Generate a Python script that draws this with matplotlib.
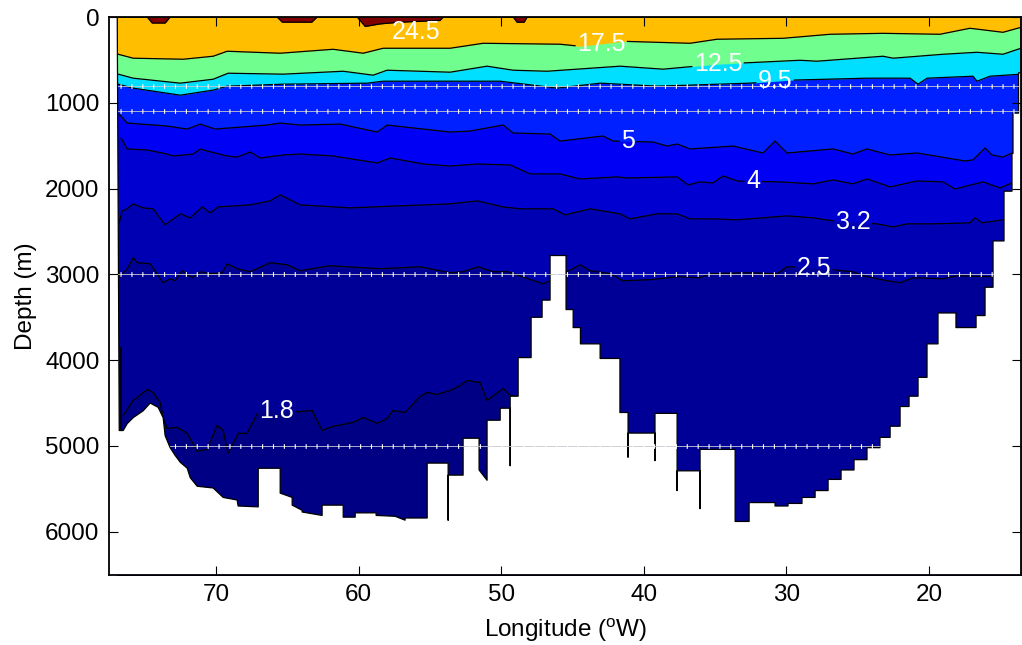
import numpy as np
import matplotlib
matplotlib.use('Agg')
import matplotlib.pyplot as plt

plt.rcParams['font.family'] = ['Liberation Sans', 'DejaVu Sans']
plt.rcParams['mathtext.fontset'] = 'custom'
plt.rcParams['mathtext.rm'] = 'Liberation Sans'
plt.rcParams['lines.scale_dashes'] = False

# ---- isotherm depths (m) along the section, longitude in deg W ----
levels = [1.8, 2.5, 3.2, 4, 5, 9.5, 12.5, 17.5, 24.5]

lon_18 = [76.52, 75.82, 75.54, 74.84, 74.42, 73.93, 73.72, 73.44, 72.73, 72.03,
          71.33, 70.63, 69.93, 69.51, 69.16, 68.46, 67.83, 67.12, 66.91, 64.81,
          63.27, 62.57, 61.80, 60.39, 59.69, 58.71, 58.01, 57.59, 56.75, 55.70,
          55.20, 54.50, 53.59, 52.89, 52.40, 51.49, 51.00, 49.87, 49.38, 48.82]
dep_18 = [4644, 4469, 4434, 4342, 4376, 4493, 4667, 4795, 4783, 4853,
          5062, 5039, 4760, 4818, 5086, 4853, 4853, 4621, 4586, 4609,
          4586, 4818, 4772, 4725, 4667, 4737, 4679, 4586, 4609, 4423,
          4376, 4400, 4353, 4295, 4237, 4260, 4469, 4330, 4411, 4423]

lon_25 = [76.73, 76.24, 75.82, 75.54, 74.63, 73.72, 73.23, 72.88, 72.38, 71.68,
          71.12, 70.42, 69.58, 69.23, 68.53, 67.61, 66.21, 65.02, 64.11, 62.01,
          58.50, 55.70, 53.59, 52.68, 51.63, 50.58, 49.52, 48.54, 47.07, 46.58,
          45.39, 44.47, 43.77, 42.37, 41.46, 39.57, 37.67, 36.06, 35.36, 32.76,
          30.66, 29.96, 28.13, 25.33, 24.63, 22.95, 22.03, 21.12, 19.02, 18.04,
          15.58]
dep_25 = [3016, 2934, 2806, 2864, 2876, 3097, 3051, 3074, 2957, 3039,
          2969, 2992, 2981, 2876, 2934, 2969, 2864, 2888, 2957, 2899,
          2934, 2911, 2981, 2969, 2911, 2969, 2969, 3027, 3109, 3074,
          2969, 2888, 2957, 2992, 3074, 3062, 3027, 3039, 2992, 2981,
          2992, 2911, 2923, 2969, 3016, 3074, 3097, 3039, 3051, 3016,
          3027]

lon_32 = [76.80, 76.59, 76.24, 75.82, 75.12, 74.42, 73.58, 72.52, 71.82, 70.98,
          70.42, 69.86, 67.61, 66.21, 65.51, 64.11, 60.60, 57.10, 53.59, 51.70,
          49.87, 48.68, 46.37, 45.52, 43.77, 41.67, 40.97, 39.07, 37.67, 36.76,
          35.15, 33.46, 29.96, 28.13, 26.73, 23.65, 22.52, 21.54, 19.72, 17.13,
          16.78, 16.28, 14.81]
dep_32 = [2399, 2260, 2236, 2178, 2225, 2236, 2422, 2294, 2341, 2213,
          2283, 2213, 2190, 2143, 2073, 2190, 2225, 2201, 2178, 2143,
          2213, 2236, 2236, 2306, 2236, 2294, 2353, 2294, 2294, 2353,
          2353, 2364, 2318, 2341, 2376, 2411, 2446, 2411, 2411, 2399,
          2341, 2399, 2364]

lon_4 = [76.66, 76.24, 74.84, 73.44, 73.02, 71.61, 71.12, 70.63, 69.23, 68.53,
         67.61, 66.91, 65.30, 64.11, 61.80, 58.71, 57.80, 55.48, 53.59, 51.70,
         49.38, 47.98, 45.88, 44.47, 41.88, 41.18, 37.67, 36.90, 36.06, 35.15,
         34.45, 33.46, 30.45, 28.13, 26.73, 25.33, 24.35, 22.73, 20.84, 19.02,
         18.18, 16.21, 15.02, 14.18]
dep_4 = [1411, 1538, 1550, 1597, 1620, 1597, 1538, 1562, 1620, 1632,
         1573, 1643, 1608, 1597, 1620, 1701, 1643, 1713, 1737, 1713,
         1725, 1829, 1829, 1887, 1864, 1876, 1864, 1957, 1922, 1934,
         1852, 1911, 1922, 1945, 1899, 1945, 1887, 1980, 1911, 1922,
         2004, 1922, 1992, 1934]

lon_5 = [76.80, 76.24, 73.44, 72.03, 71.12, 70.07, 66.42, 65.51, 64.11, 61.30,
         58.71, 58.01, 53.59, 52.19, 49.87, 49.17, 46.58, 45.88, 42.86, 42.16,
         39.36, 38.37, 37.67, 36.76, 33.74, 31.64, 30.80, 29.96, 26.73, 25.33,
         24.35, 22.73, 20.84, 17.48, 16.92, 16.07, 15.58, 14.81, 14.18]
dep_5 = [1132, 1236, 1271, 1306, 1248, 1306, 1259, 1236, 1259, 1248,
         1341, 1259, 1341, 1329, 1259, 1352, 1364, 1446, 1387, 1446,
         1457, 1504, 1480, 1538, 1504, 1585, 1446, 1585, 1538, 1597,
         1538, 1608, 1585, 1678, 1666, 1527, 1608, 1632, 1585]

lon_95 = [76.87, 75.82, 72.52, 70.21, 69.23, 65.30, 59.41, 58.29, 53.59, 50.08,
          46.09, 43.07, 39.07, 32.55, 29.75, 24.35, 21.33, 20.77, 20.14, 16.92,
          16.63, 15.72, 13.55]
dep_95 = [783, 829, 911, 852, 806, 783, 771, 748, 748, 748,
          829, 771, 806, 771, 736, 713, 713, 783, 713, 690,
          748, 690, 666]

lon_125 = [76.87, 75.82, 72.52, 70.21, 69.16, 65.30, 61.09, 58.99, 58.01, 53.59,
           51.00, 49.17, 46.79, 41.67, 38.65, 34.87, 29.05, 27.85, 23.23, 22.52,
           19.02, 16.63, 14.81, 13.55]
dep_125 = [666, 713, 771, 725, 655, 666, 632, 678, 620, 643,
           573, 620, 632, 573, 608, 550, 504, 515, 457, 480,
           434, 411, 434, 364]

lon_175 = [76.87, 75.82, 72.31, 70.21, 69.23, 65.51, 61.80, 59.69, 58.29, 53.59,
           51.28, 45.88, 44.47, 41.46, 36.76, 34.87, 30.24, 26.94, 23.23, 19.23,
           17.13, 14.81, 13.55]
dep_175 = [434, 480, 492, 457, 399, 422, 376, 422, 364, 364,
           306, 317, 341, 283, 306, 259, 248, 201, 190, 201,
           131, 178, 120]

lon_245 = [76.94, 74.84, 74.49, 73.58, 73.23, 65.72, 65.37, 63.30, 62.92, 60.11,
           59.55, 58.50, 57.10, 54.30, 54.08, 49.17, 48.90, 48.40, 48.19, 13.55]
dep_245 = [0, 0, 70, 70, 0, 0, 60, 60, 0, 0,
           110, 80, 60, 40, 0, 0, 60, 60, 0, 0]

# seafloor / section boundary
floor_lon = [76.94, 76.80, 76.66, 76.66, 76.66, 76.52, 76.24, 75.82, 75.12, 74.63,
             74.07, 73.72, 73.58, 73.23, 72.88, 72.52, 72.03, 71.82, 71.33, 70.21,
             69.51, 68.53, 68.46, 67.05, 67.05, 65.51, 65.51, 64.67, 64.67, 63.97,
             63.97, 62.57, 62.57, 61.09, 61.09, 60.25, 60.25, 58.78, 58.78, 57.45,
             56.75, 56.75, 55.20, 55.20, 53.73, 53.73, 53.73, 52.68, 52.68, 51.56,
             51.56, 51.00, 51.00, 50.08, 50.08, 49.38, 49.38, 49.38, 48.82, 48.82,
             47.91, 47.91, 47.14, 47.14, 46.58, 46.58, 45.46, 45.46, 44.96, 44.96,
             44.45, 44.45, 43.07, 43.07, 41.68, 41.68, 41.11, 41.11, 41.11, 39.22,
             39.22, 39.22, 37.67, 37.67, 37.67, 36.06, 36.06, 36.06, 33.60, 33.60,
             32.62, 32.62, 30.80, 30.80, 29.89, 29.89, 28.91, 28.91, 27.99, 27.99,
             27.08, 27.08, 26.17, 26.17, 25.26, 25.26, 24.35, 24.35, 23.44, 23.44,
             22.73, 22.73, 22.03, 22.03, 21.40, 21.40, 20.77, 20.77, 20.14, 20.14,
             19.37, 19.37, 18.11, 18.11, 16.70, 16.70, 16.07, 16.07, 15.51, 15.51,
             14.74, 14.74, 14.18, 14.18, 14.11, 14.11, 13.72, 13.72, 13.55, 13.55]
floor_dep = [0, 4820, 4820, 3850, 4820, 4820, 4740, 4670, 4590, 4500,
             4550, 4670, 4880, 5020, 5110, 5190, 5260, 5370, 5470, 5490,
             5600, 5630, 5700, 5710, 5260, 5260, 5550, 5600, 5690, 5750,
             5770, 5810, 5690, 5690, 5830, 5830, 5780, 5780, 5810, 5820,
             5865, 5840, 5840, 5200, 5200, 5865, 5340, 5340, 4910, 4910,
             5280, 5400, 4700, 4700, 4560, 4560, 5230, 4420, 4420, 3970,
             3970, 3500, 3500, 3300, 3300, 2780, 2780, 3410, 3410, 3620,
             3620, 3810, 3810, 3980, 3980, 4610, 4610, 5130, 4850, 4850,
             5170, 4620, 4620, 5520, 5290, 5290, 5730, 5040, 5040, 5880,
             5880, 5660, 5660, 5700, 5700, 5670, 5670, 5600, 5600, 5520,
             5520, 5390, 5390, 5280, 5280, 5160, 5160, 5020, 5020, 4900,
             4900, 4770, 4770, 4540, 4540, 4420, 4420, 4200, 4200, 3810,
             3810, 3450, 3450, 3620, 3620, 3480, 3480, 3150, 3150, 2610,
             2610, 2030, 2030, 1590, 1590, 1120, 1120, 650, 650, 0]

# sampling depths marked on the section
grid_depth = [800, 1100, 3000, 5000]
grid_west = [76.87, 76.87, 76.87, 73.23]
grid_east = [13.69, 13.69, 15.51, 23.44]

# where each contour label sits (deg W)
label_lon = [65.79, 28.06, 25.33, 32.34, 41.11, 30.80, 34.80, 42.99, 55.97]

iso = {1.8: (lon_18, dep_18), 2.5: (lon_25, dep_25), 3.2: (lon_32, dep_32),
       4: (lon_4, dep_4), 5: (lon_5, dep_5), 9.5: (lon_95, dep_95),
       12.5: (lon_125, dep_125), 17.5: (lon_175, dep_175), 24.5: (lon_245, dep_245)}

# fill colours, coldest water first (jet-like)
colors = ['#000085', '#000096', '#0000B3', '#0000D1', '#0000F4',
          '#0020FF', '#00DFFF', '#70FF8F', '#FFBF00', '#800000']


def cut(lon, dep, lo, hi):
    # break a line between lo and hi (deg W) to leave room for a label
    lon = np.asarray(lon, float)
    dep = np.asarray(dep, float)
    d_lo, d_hi = np.interp([lo, hi], lon[::-1], dep[::-1])
    w = lon >= hi
    e = lon <= lo
    return (np.r_[lon[w], hi, np.nan, lo, lon[e]],
            np.r_[dep[w], d_hi, np.nan, d_lo, dep[e]])


fig = plt.figure(figsize=(10.22, 6.45), dpi=100)
ax = fig.add_axes([0.1069, 0.1091, 0.8921, 0.8645])

west, east = 76.94, 13.55
ax.fill_between([west, east], 0, 6600, color=colors[0], lw=0, zorder=1)
for k, lev in enumerate(levels):
    lon, dep = iso[lev]
    x = np.r_[west, lon, east]
    d = np.r_[dep[0], dep, dep[-1]]
    if lev == 1.8:
        # east of the ridge there is no water colder than 1.8
        x = np.r_[west, lon, 48.70, east]
        d = np.r_[dep[0], dep, 6600, 6600]
    ax.fill_between(x, 0, d, color=colors[k + 1], lw=0, zorder=1)

ax.set_xlim(77.5, 13.55)
ax.set_ylim(6500, 0)

# contour labels
texts = {}
for lev, ll in zip(levels, label_lon):
    lon, dep = iso[lev]
    if lev == 24.5:
        y = 180
    else:
        y = np.interp(ll, np.asarray(lon)[::-1], np.asarray(dep)[::-1])
    texts[lev] = ax.text(ll, y, f'{lev:g}', color='white', fontsize=18,
                         ha='center', va='center', zorder=1.8)

fig.canvas.draw()
r = fig.canvas.get_renderer()
inv = ax.transData.inverted()
for lev in levels:
    lon, dep = iso[lev]
    if lev != 24.5:
        bb = texts[lev].get_window_extent(r)
        a = inv.transform((bb.x0 - 2, bb.y0))[0]
        b = inv.transform((bb.x1 + 2, bb.y0))[0]
        lon, dep = cut(lon, dep, min(a, b), max(a, b))
    ax.plot(lon, dep, color='k', lw=0.9, zorder=1.2)

# bathymetry
px = np.r_[80, west, floor_lon, 10, 10, 80]
py = np.r_[-100, -100, floor_dep, -100, 7000, 7000]
ax.fill(px, py, color='white', lw=0, zorder=1.4)
ax.plot(floor_lon, floor_dep, color='k', lw=0.9, zorder=1.5)

# sampling levels
for d, w, e in zip(grid_depth, grid_west, grid_east):
    ax.plot([w, e], [d, d], color='#c8c8d0', lw=0.6, zorder=1.6)
    ax.plot([76.73, e], [d, d], color='white', lw=3.4, ls=(0, (0.8, 7.04)),
            dash_capstyle='butt', zorder=1.7)

ax.set_xticks([70, 60, 50, 40, 30, 20])
ax.set_yticks(np.arange(0, 6001, 1000))
ax.tick_params(direction='in', length=6.5, width=0.8, top=True, right=True,
               labelsize=17.5, pad=7)
for s in ax.spines.values():
    s.set_linewidth(1.3)
ax.set_xlabel(r'Longitude ($^\mathregular{o}$W)', fontsize=17.5, labelpad=7)
ax.set_ylabel('Depth (m)', fontsize=17.5, labelpad=6)

fig.savefig('out.png', dpi=100)
